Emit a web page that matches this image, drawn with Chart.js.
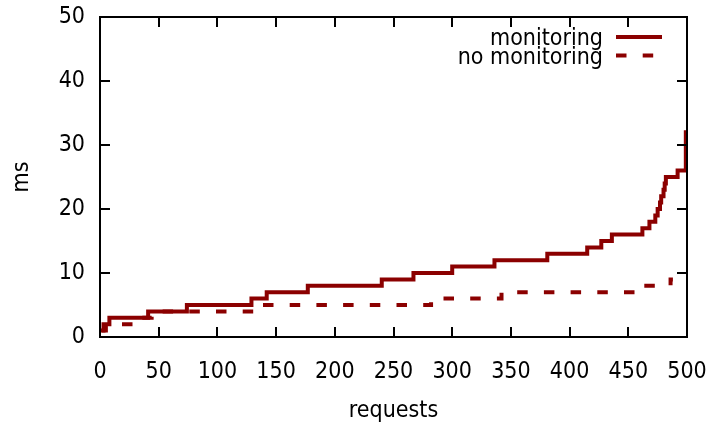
<!DOCTYPE html>
<html>
<head>
<meta charset="utf-8">
<script src="https://cdn.jsdelivr.net/npm/chart.js@4/dist/chart.umd.min.js"></script>
<style>
  body { margin: 0; background: #fff; }
  #graph { display: block; }
</style>
</head>
<body>
<canvas id="graph" width="713" height="425"></canvas>
<script>
// sorted response times, x = request index where the level starts
var monitoringX = [0, 3, 8, 41, 74, 129, 142, 177, 240, 267, 300, 336, 381, 415, 427, 436, 462, 468, 473, 475, 477, 478, 480, 481, 482, 492, 499, 500];
var monitoringY = [1, 2, 3, 4, 5, 6, 7, 8, 9, 10, 11, 12, 13, 14, 15, 16, 17, 18, 19, 20, 21, 22, 23, 24, 25, 26, 32, 32];
var noMonitoringX = [0, 5, 31, 44, 138, 282, 342, 462, 486, 488];
var noMonitoringY = [1, 2, 3, 4, 5, 6, 7, 8, 9, 9];
var xTicks = [0, 50, 100, 150, 200, 250, 300, 350, 400, 450, 500];
var yTicks = [0, 10, 20, 30, 40, 50];

var red = '#8b0000';
var fontFamily = "'DejaVu Sans', sans-serif";
var fontSize = 23;

function points(xs, ys) {
  var out = [];
  for (var i = 0; i < xs.length && i < ys.length; i++) out.push({x: xs[i], y: ys[i]});
  return out;
}

function noPad(s) {
  s.paddingTop = 0; s.paddingBottom = 0; s.paddingLeft = 0; s.paddingRight = 0;
}

// gnuplot style frame with inward ticks on all four sides
var frame = {
  id: 'frame',
  afterDatasetsDraw: function(chart) {
    var ctx = chart.ctx, a = chart.chartArea;
    var xs = chart.scales.x, ys = chart.scales.y;
    ctx.save();
    ctx.strokeStyle = '#000';
    ctx.lineWidth = 2;
    ctx.beginPath();
    xTicks.forEach(function(v) {
      var px = Math.round(xs.getPixelForValue(v));
      ctx.moveTo(px, a.bottom); ctx.lineTo(px, a.bottom - 10);
      ctx.moveTo(px, a.top); ctx.lineTo(px, a.top + 10);
    });
    yTicks.forEach(function(v) {
      var py = Math.round(ys.getPixelForValue(v));
      ctx.moveTo(a.left, py); ctx.lineTo(a.left + 10, py);
      ctx.moveTo(a.right, py); ctx.lineTo(a.right - 10, py);
    });
    ctx.stroke();
    ctx.strokeRect(a.left, a.top, a.right - a.left, a.bottom - a.top);
    ctx.restore();
  }
};

// key in the top right corner: text first, then the line sample
var key = {
  id: 'key',
  afterDraw: function(chart) {
    var ctx = chart.ctx;
    ctx.save();
    ctx.font = 'condensed ' + fontSize + 'px ' + fontFamily;
    ctx.textAlign = 'right';
    ctx.textBaseline = 'alphabetic';
    chart.data.datasets.forEach(function(ds, i) {
      var y = 37 + i * 18.5;
      ctx.fillStyle = '#000';
      ctx.fillText(ds.label, 603, y + 8);
      ctx.strokeStyle = ds.borderColor;
      ctx.lineWidth = ds.borderWidth;
      ctx.setLineDash(ds.borderDash || []);
      ctx.beginPath();
      ctx.moveTo(616, y);
      ctx.lineTo(662, y);
      ctx.stroke();
    });
    ctx.restore();
  }
};

var tickFont = { family: fontFamily, size: fontSize, style: 'normal', weight: 'condensed' };

var ctx = document.getElementById('graph');
var myChart = new Chart(ctx, {
  type: 'line',
  data: {
    datasets: [{
      label: 'monitoring',
      data: points(monitoringX, monitoringY),
      borderColor: red,
      borderWidth: 4,
      stepped: 'before',
      pointRadius: 0,
      fill: false
    }, {
      label: 'no monitoring',
      data: points(noMonitoringX, noMonitoringY),
      borderColor: red,
      borderWidth: 4,
      borderDash: [10.5, 16.2],
      borderDashOffset: 25,
      stepped: 'before',
      pointRadius: 0,
      fill: false
    }]
  },
  options: {
    responsive: false,
    animation: false,
    devicePixelRatio: 1,
    layout: { padding: { top: 17, right: 26, left: 0, bottom: 0 } },
    plugins: { legend: { display: false }, tooltip: { enabled: false } },
    scales: {
      x: {
        type: 'linear',
        min: 0, max: 500,
        afterFit: function(s) { s.height = 88; noPad(s); },
        afterBuildTicks: function(s) { s.ticks = xTicks.map(function(v) { return {value: v}; }); },
        ticks: { color: '#000', padding: 21, maxRotation: 0, font: tickFont },
        grid: { display: false, drawTicks: false },
        border: { display: false },
        title: { display: true, text: 'requests', color: '#000', padding: { bottom: 0, top: 0 }, font: tickFont }
      },
      y: {
        type: 'linear',
        min: 0, max: 50,
        afterFit: function(s) { s.width = 100; noPad(s); },
        afterBuildTicks: function(s) { s.ticks = yTicks.map(function(v) { return {value: v}; }); },
        ticks: { color: '#000', padding: 15, font: tickFont },
        grid: { display: false, drawTicks: false },
        border: { display: false },
        title: { display: true, text: 'ms', color: '#000', padding: { top: 8, bottom: 0 }, font: tickFont }
      }
    }
  },
  plugins: [frame, key]
});
</script>
</body>
</html>
